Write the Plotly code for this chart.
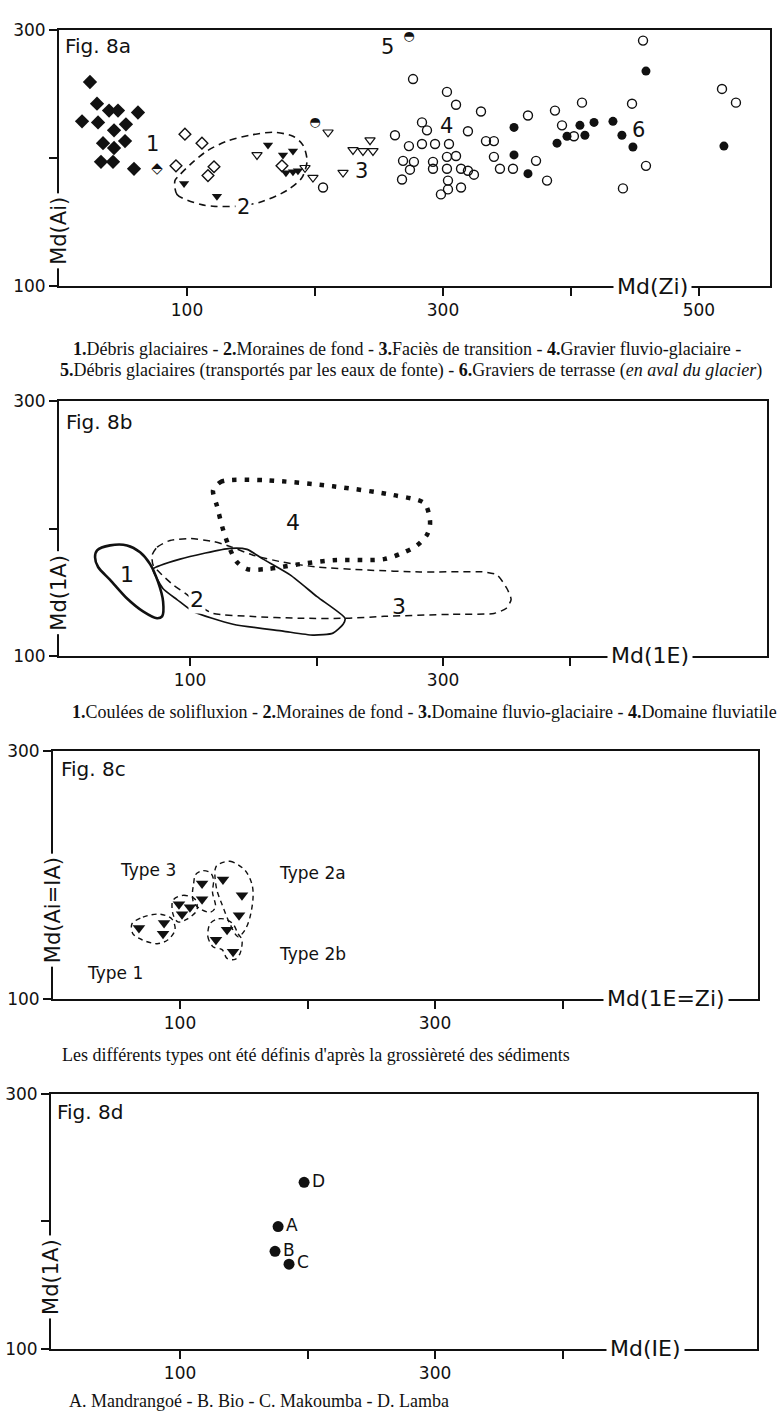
import plotly.graph_objects as go

W, H = 784, 1423

# ---------------- Fig. 8a data ----------------
# 1. Débris glaciaires (filled diamonds)
a1_x = [24.2, 29.7, 39.1, 46.1, 61.7, 18.0, 30.5, 43.0, 52.3, 34.4, 43.0, 51.6, 32.8, 42.2, 58.6]
a1_y = [259.2, 242.3, 236.9, 236.9, 235.4, 228.5, 227.7, 221.5, 226.2, 211.5, 207.7, 213.1, 196.9, 196.9, 191.5]
# open diamonds
aod_x = [98.4, 111.7, 121.1, 116.4, 91.4, 174.2]
aod_y = [218.5, 211.5, 193.1, 186.2, 193.8, 193.8]
# half-filled diamond
ahd_x = [76.6]
ahd_y = [191.5]
# 2. Moraines de fond (filled down-triangles)
a2_x = [97.7, 123.4, 163.3, 175.0, 182.8, 177.3, 182.8, 186.7]
a2_y = [180.0, 170.0, 210.0, 202.3, 205.4, 188.5, 189.2, 190.0]
# 3. Faciès de transition (open down-triangles)
a3_x = [154.7, 192.2, 198.4, 210.2, 221.9, 229.7, 237.5, 243.0, 245.3]
a3_y = [202.3, 192.3, 184.6, 220.0, 188.5, 206.2, 205.4, 213.8, 205.4]
# 4. Gravier fluvio-glaciaire (open circles)
a4_x = [206.3, 262.5, 456.3, 276.6, 303.1, 310.2, 329.7, 518.0, 528.9, 408.6, 447.7, 387.5,
        366.4, 283.6, 287.5, 319.5, 273.4, 283.6, 293.8, 304.7, 333.6, 339.8, 393.0, 402.3,
        339.8, 310.2, 303.1, 268.8, 277.3, 292.2, 292.2, 303.1, 314.1, 319.5, 324.2, 274.2,
        268.0, 303.9, 303.9, 298.4, 314.1, 344.5, 354.7, 372.7, 381.3, 458.6, 440.6]
a4_y = [176.9, 217.7, 291.5, 261.5, 251.5, 241.5, 236.2, 253.8, 243.1, 243.1, 242.3, 236.9,
        233.1, 227.7, 221.5, 220.8, 209.2, 210.8, 210.8, 210.8, 213.1, 213.1, 225.4, 216.9,
        200.8, 201.5, 200.8, 197.7, 196.9, 196.9, 191.5, 191.5, 191.5, 190.0, 186.9, 190.8,
        183.1, 182.3, 175.4, 171.5, 176.9, 191.5, 191.5, 197.7, 182.3, 193.8, 176.2]
# 5. Débris glaciaires transportés (half-filled circles)
a5_x = [200.0, 273.4]
a5_y = [227.7, 294.6]
# 6. Graviers de terrasse (filled circles)
a6_x = [355.5, 355.5, 366.4, 389.1, 396.9, 407.0, 410.9, 418.0, 432.8, 439.8, 448.4, 519.5, 458.6]
a6_y = [223.8, 202.3, 187.7, 211.5, 216.9, 225.4, 217.7, 227.7, 228.5, 217.7, 208.5, 209.2, 267.7]
# dashed envelope of group 2
a_env_x = [90.6, 92.2, 110.2, 120.3, 139.1, 157.0, 178.1, 189.8, 193.8, 190.6, 182.8, 167.2,
           149.2, 131.3, 115.6, 102.3, 94.5]
a_env_y = [182.3, 171.5, 163.8, 162.3, 162.3, 165.4, 174.6, 184.6, 197.7, 210.0, 216.9, 220.0,
           217.7, 213.1, 205.4, 194.6, 186.9]
a_lab_text = ["1", "2", "3", "4", "5", "6"]
a_lab_x = [73.4, 143.8, 236.7, 303.1, 256.3, 453.1]
a_lab_y = [210.8, 161.5, 190.0, 224.6, 286.9, 221.5]

# ---------------- Fig. 8b data ----------------
b1_x = [26.5, 36.8, 50.2, 60.5, 68.4, 74.7, 78.7, 77.9, 73.9, 62.8, 50.2, 36.8, 27.3, 24.9]
b1_y = [182.9, 186.8, 186.8, 181.4, 172.1, 158.1, 142.6, 131.0, 129.5, 134.9, 145.0, 159.7, 169.8, 177.5]
b2_x = [70.8, 92.1, 131.6, 145.1, 157.7, 179.1, 200.4, 222.5, 221.0, 213.0, 197.2, 173.5,
        134.0, 102.4, 89.7, 78.7, 72.3]
b2_y = [168.2, 176.0, 184.5, 183.7, 176.0, 163.6, 146.5, 129.5, 124.8, 117.8, 116.3, 119.4,
        124.8, 134.9, 144.2, 152.7, 163.6]
b3_x = [70.0, 73.9, 84.2, 100.0, 118.2, 131.6, 149.8, 173.5, 200.4, 239.9, 281.8, 332.4, 342.7,
        350.6, 353.8, 349.8, 340.3, 306.3, 253.4, 224.1, 187.0, 147.4, 118.2, 107.9, 97.6,
        86.6, 77.9, 70.8]
b3_y = [179.1, 185.3, 190.7, 192.2, 189.9, 186.0, 179.1, 173.6, 169.8, 167.4, 165.9, 165.9, 163.6,
        152.7, 144.2, 137.2, 133.3, 132.6, 131.0, 129.5, 129.5, 131.0, 133.3, 138.8, 148.1,
        155.8, 163.6, 171.3]
b4_x = [118.2, 123.7, 129.4, 160.9, 213.0, 260.5, 285.0, 289.0, 289.7, 287.4, 279.5, 269.2,
        253.4, 213.0, 187.0, 160.9, 145.1, 137.2, 131.6, 126.1, 121.3]
b4_y = [230.2, 236.4, 238.0, 238.0, 233.3, 226.4, 220.2, 210.9, 203.1, 195.3, 186.8, 181.4,
        176.0, 175.2, 172.1, 168.2, 168.2, 173.6, 183.7, 199.2, 217.8]
b_lab_text = ["1", "2", "3", "4"]
b_lab_x = [50.2, 105.5, 265.2, 181.4]
b_lab_y = [163.6, 144.2, 138.8, 204.7]

# ---------------- Fig. 8c data ----------------
c_x = [67.8, 87.5, 86.7, 99.2, 107.8, 101.6, 117.3, 117.3, 133.7, 148.6, 146.3, 136.9, 128.2, 141.6]
c_y = [157.4, 161.4, 152.6, 176.5, 174.1, 168.5, 193.2, 180.5, 196.4, 183.7, 167.7, 155.8, 147.8, 138.2]
c_t1_x = [62.3, 70.9, 84.3, 93.7, 96.1, 90.6, 82.0, 70.2, 63.1]
c_t1_y = [160.6, 166.1, 168.5, 164.5, 155.8, 147.8, 144.6, 147.8, 152.6]
c_t3a_x = [94.5, 102.4, 111.8, 113.3, 105.5, 98.4, 94.5]
c_t3a_y = [179.7, 183.7, 180.5, 171.7, 164.5, 162.2, 168.5]
c_t3b_x = [110.6, 112.2, 117.6, 123.9, 126.3, 125.5, 127.8, 123.9, 116.1, 110.6, 109.8]
c_t3b_y = [192.4, 200.4, 203.6, 202.0, 196.4, 186.1, 174.1, 170.1, 172.5, 178.1, 186.1]
c_t2a_x = [129.0, 139.2, 151.0, 156.5, 157.3, 154.9, 151.0, 145.5, 139.2, 132.9, 129.0, 127.5, 127.5]
c_t2a_y = [208.0, 211.2, 204.0, 192.4, 182.1, 166.1, 155.8, 150.2, 160.6, 176.5, 187.6, 198.0, 204.4]
c_t2b_x = [123.5, 121.9, 125.9, 133.0, 136.9, 143.1, 147.1, 148.6, 145.5, 141.6, 135.3, 129.0]
c_t2b_y = [160.6, 150.2, 142.2, 139.8, 132.7, 131.9, 136.7, 147.8, 152.6, 160.6, 164.5, 164.5]
c_lab_text = ["Type 3", "Type 2a", "Type 2b", "Type 1"]
c_lab_x = [74.9, 204.3, 204.3, 49.0]
c_lab_y = [204.4, 202.0, 135.9, 120.7]

# ---------------- Fig. 8d data ----------------
d_names = ["D", "A", "B", "C"]
d_x = [197.3, 176.9, 174.5, 185.5]
d_y = [230.5, 195.8, 176.4, 166.4]

# ---------------- layout geometry (pixels) ----------------
PANELS = [
    dict(l=59, r=770, t=20, b=280, x0=0.0, x1=555.5),
    dict(l=59, r=767, t=397, b=655, x0=-3.6, x1=556.1),
    dict(l=53, r=758, t=752, b=1003, x0=0.4, x1=553.3),
    dict(l=51, r=757, t=1099, b=1358, x0=-1.2, x1=552.5),
]

SANS = "DejaVu Sans"
SERIF = "Liberation Serif"
BLACK = "#111111"

fig = go.Figure()


def closed(v):
    return list(v) + [v[0]]


def add(trace, i):
    sfx = "" if i == 1 else str(i)
    trace.update(xaxis="x" + sfx, yaxis="y" + sfx, showlegend=False, hoverinfo="skip")
    fig.add_trace(trace)


# ---- Fig 8a ----
add(go.Scatter(x=closed(a_env_x), y=closed(a_env_y), mode="lines",
               line=dict(color=BLACK, width=1.6, dash="7px,5px", shape="spline", smoothing=0.8)), 1)
add(go.Scatter(x=a1_x, y=a1_y, mode="markers",
               marker=dict(symbol="diamond", size=11, color=BLACK)), 1)
add(go.Scatter(x=aod_x, y=aod_y, mode="markers",
               marker=dict(symbol="diamond-open", size=9, color=BLACK, line=dict(width=1.4))), 1)
add(go.Scatter(x=a2_x, y=a2_y, mode="markers",
               marker=dict(symbol="triangle-down", size=9, color=BLACK)), 1)
add(go.Scatter(x=a3_x, y=a3_y, mode="markers",
               marker=dict(symbol="triangle-down-open", size=9, color=BLACK, line=dict(width=1.2))), 1)
add(go.Scatter(x=a4_x, y=a4_y, mode="markers",
               marker=dict(symbol="circle-open", size=9, color=BLACK, line=dict(width=1.4))), 1)
add(go.Scatter(x=a6_x, y=a6_y, mode="markers",
               marker=dict(symbol="circle", size=9, color=BLACK)), 1)
add(go.Scatter(x=a5_x, y=a5_y, mode="text", text=["◓"] * len(a5_x), textposition="middle center",
               textfont=dict(family=SANS, size=13, color=BLACK)), 1)
add(go.Scatter(x=ahd_x, y=ahd_y, mode="text", text=["⬘"] * len(ahd_x), textposition="middle center",
               textfont=dict(family=SANS, size=15, color=BLACK)), 1)

# ---- Fig 8b ----
add(go.Scatter(x=closed(b1_x), y=closed(b1_y), mode="lines",
               line=dict(color=BLACK, width=2.6, shape="spline", smoothing=0.8)), 2)
add(go.Scatter(x=closed(b2_x), y=closed(b2_y), mode="lines",
               line=dict(color=BLACK, width=1.7, shape="spline", smoothing=0.6)), 2)
add(go.Scatter(x=closed(b3_x), y=closed(b3_y), mode="lines",
               line=dict(color=BLACK, width=1.5, dash="7px,5px", shape="spline", smoothing=0.6)), 2)
add(go.Scatter(x=closed(b4_x), y=closed(b4_y), mode="lines",
               line=dict(color=BLACK, width=4.5, dash="4.5px,8px", shape="spline", smoothing=0.8)), 2)

# ---- Fig 8c ----
for cx, cy in [(c_t1_x, c_t1_y), (c_t3a_x, c_t3a_y), (c_t3b_x, c_t3b_y),
               (c_t2a_x, c_t2a_y), (c_t2b_x, c_t2b_y)]:
    add(go.Scatter(x=closed(cx), y=closed(cy), mode="lines",
                   line=dict(color=BLACK, width=1.4, dash="5px,4px", shape="spline", smoothing=0.9)), 3)
add(go.Scatter(x=c_x, y=c_y, mode="markers",
               marker=dict(symbol="triangle-down", size=11, color=BLACK)), 3)

# ---- Fig 8d ----
add(go.Scatter(x=d_x, y=d_y, mode="markers+text", text=d_names,
               textposition="middle right",
               marker=dict(symbol="circle", size=11, color=BLACK),
               textfont=dict(family=SANS, size=17, color=BLACK)), 4)

# ---------------- axes ----------------
xtick_sets = [
    ([100, 200, 300, 400, 500], ["100", "", "300", "", "500"]),
    ([100, 200, 300, 400], ["100", "", "300", ""]),
    ([100, 200, 300, 400], ["100", "", "300", ""]),
    ([100, 200, 300, 400], ["100", "", "300", ""]),
]
axis_common = dict(showline=True, linewidth=2, linecolor=BLACK, mirror=True, showgrid=False,
                   zeroline=False, ticks="outside", ticklen=8, tickwidth=2, tickcolor=BLACK,
                   tickfont=dict(family=SANS, size=17, color=BLACK), fixedrange=True)
lay = {}
for i, p in enumerate(PANELS, start=1):
    sfx = "" if i == 1 else str(i)
    tv, tt = xtick_sets[i - 1]
    lay["xaxis" + sfx] = dict(axis_common, domain=[p["l"] / W, p["r"] / W],
                              range=[p["x0"], p["x1"]], tickvals=tv, ticktext=tt,
                              anchor="y" + sfx)
    lay["yaxis" + sfx] = dict(axis_common, domain=[1 - p["b"] / H, 1 - p["t"] / H],
                              range=[100, 300], tickvals=[100, 200, 300],
                              ticktext=["100", "", "300"], anchor="x" + sfx)

annotations = []


def px_ann(text, x, y, size, family=SANS, **kw):
    d = dict(text=text, x=x / W, y=1 - y / H, xref="paper", yref="paper", showarrow=False,
             font=dict(family=family, size=size, color=BLACK))
    d.update(kw)
    annotations.append(d)


# figure tags
for txt, x, y in [("Fig. 8a", 63, 37), ("Fig. 8b", 64, 418), ("Fig. 8c", 59, 770), ("Fig. 8d", 55, 1118)]:
    px_ann(txt, x, y, 20, xanchor="left", yanchor="middle")

# axis titles placed on the axis lines
ytitles = [("Md(Ai)", 59, 224), ("Md(1A)", 59, 591), ("Md(Ai=IA)", 53, 913), ("Md(1A)", 51, 1285)]
for txt, x, y in ytitles:
    px_ann(txt, x, y, 21, textangle=-90, bgcolor="white", xanchor="center", yanchor="middle",
           borderpad=3)
xtitles = [("Md(Zi)", 652, 280), ("Md(1E)", 650, 655), ("Md(1E=Zi)", 666, 1003), ("Md(IE)", 645, 1358)]
for txt, x, y in xtitles:
    px_ann(txt, x, y, 22, bgcolor="white", xanchor="center", yanchor="middle", borderpad=3)

# group labels in data coordinates
for t, x, y in zip(a_lab_text, a_lab_x, a_lab_y):
    annotations.append(dict(text=t, x=x, y=y, xref="x", yref="y", showarrow=False,
                            font=dict(family=SANS, size=21, color=BLACK),
                            bgcolor="white" if t == "2" else None))
for t, x, y in zip(b_lab_text, b_lab_x, b_lab_y):
    annotations.append(dict(text=t, x=x, y=y, xref="x2", yref="y2", showarrow=False,
                            font=dict(family=SANS, size=22, color=BLACK),
                            bgcolor="white" if t == "2" else None))
for t, x, y in zip(c_lab_text, c_lab_x, c_lab_y):
    annotations.append(dict(text=t, x=x, y=y, xref="x3", yref="y3", showarrow=False,
                            font=dict(family=SANS, size=17, color=BLACK)))

# captions
cap = 18
px_ann("<b>1.</b>Débris glaciaires - <b>2.</b>Moraines de fond - <b>3.</b>Faciès de transition - "
       "<b>4.</b>Gravier fluvio-glaciaire -", 407, 344, cap, family=SERIF, xanchor="center", yanchor="middle")
px_ann("<b>5.</b>Débris glaciaires (transportés par les eaux de fonte) - <b>6.</b>Graviers de terrasse "
       "(<i>en aval du glacier</i>)", 411, 366, cap, family=SERIF, xanchor="center", yanchor="middle")
px_ann("<b>1.</b>Coulées de solifluxion - <b>2.</b>Moraines de fond - <b>3.</b>Domaine fluvio-glaciaire - "
       "<b>4.</b>Domaine fluviatile", 424, 712, cap, family=SERIF, xanchor="center", yanchor="middle")
px_ann("Les différents types ont été définis d'après la grossièreté des sédiments",
       60, 1060, cap, family=SERIF, xanchor="left", yanchor="middle")
px_ann("A. Mandrangoé - B. Bio - C. Makoumba - D. Lamba",
       67, 1411, cap, family=SERIF, xanchor="left", yanchor="middle")

fig.update_layout(width=W, height=H, margin=dict(l=0, r=0, t=0, b=0, pad=0),
                  paper_bgcolor="white", plot_bgcolor="white", showlegend=False,
                  annotations=annotations, **lay)

fig.write_html("out.html", config=dict(displayModeBar=False))
